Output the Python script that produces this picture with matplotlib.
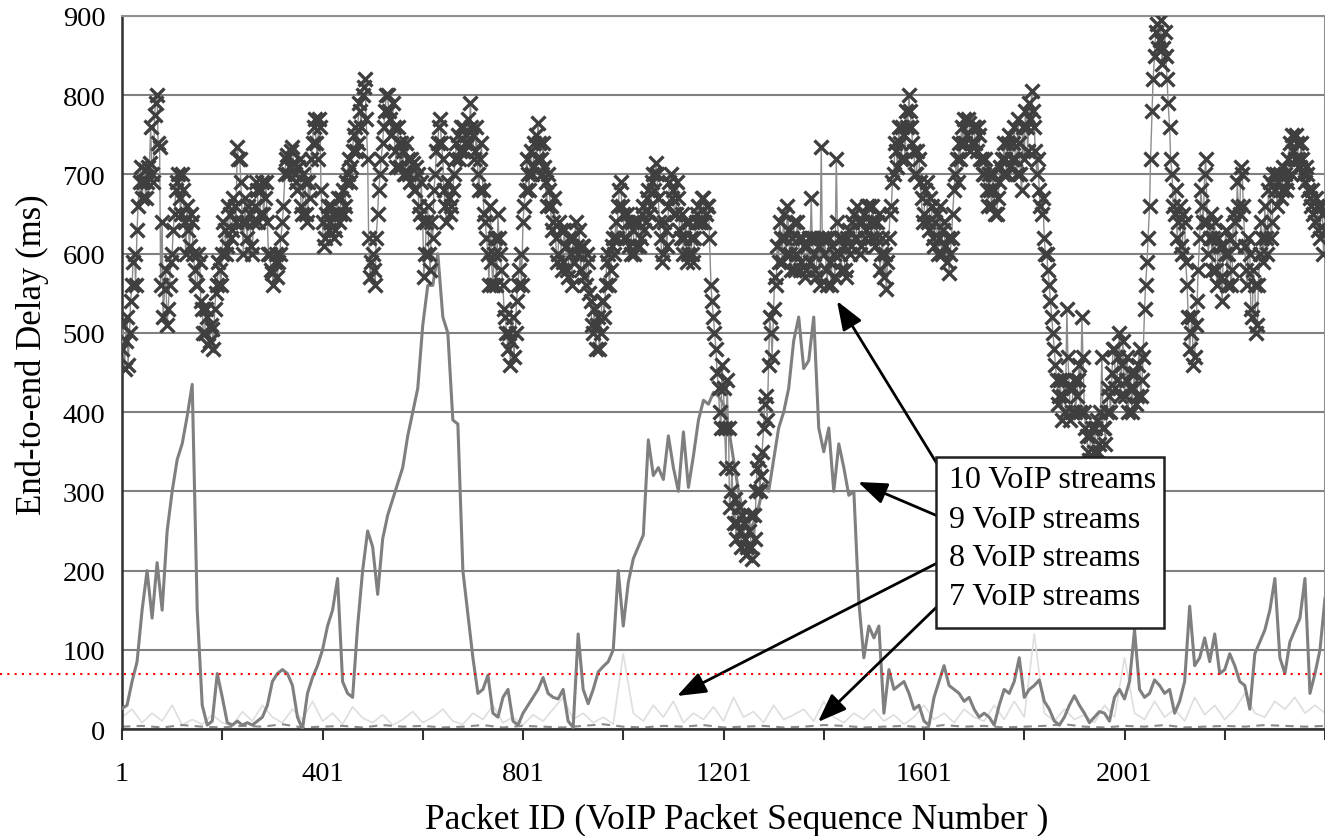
import numpy as np
import matplotlib
matplotlib.use("Agg")
import matplotlib.pyplot as plt
from matplotlib.lines import Line2D

plt.rcParams['font.family'] = ['Liberation Serif', 'DejaVu Serif']

# packet ids
pkt_10a = np.arange(1, 2402, 5)
pkt_10b = np.arange(3, 2402, 5)
pkt_9 = np.arange(1, 2402, 10)
pkt_8 = np.arange(1, 2402, 20)
pkt_7 = np.arange(1, 2402, 40)

# end-to-end delay (ms), 10 VoIP streams, packets 1, 6, 11, ...
delay_10a = [
    480, 455, 520, 500, 560, 600, 630, 690, 670, 705, 690, 715, 700, 775, 800, 735, 640, 555, 510, 560,
    600, 650, 690, 670, 700, 640, 660, 610, 640, 580, 560, 590, 530, 500, 520, 490, 505, 530, 560, 580,
    600, 630, 610, 650, 630, 660, 735, 720, 640, 670, 620, 650, 600, 660, 680, 650, 690, 670, 640, 600,
    575, 590, 570, 600, 640, 700, 725, 710, 735, 700, 680, 720, 650, 690, 640, 670, 740, 770, 720, 760,
    640, 620, 660, 640, 650, 630, 670, 650, 680, 660, 700, 690, 730, 760, 740, 780, 800, 820, 720, 570,
    600, 560, 650, 700, 740, 780, 800, 770, 790, 730, 760, 710, 730, 700, 720, 690, 715, 680, 700, 650,
    640, 600, 660, 580, 620, 700, 740, 770, 720, 660, 690, 650, 680, 720, 750, 730, 760, 740, 770, 790,
    750, 730, 700, 720, 680, 640, 600, 660, 560, 620, 650, 600, 560, 520, 480, 460, 520, 500, 560, 600,
    640, 680, 700, 730, 710, 750, 765, 720, 740, 690, 700, 660, 640, 620, 600, 630, 590, 610, 570, 600,
    620, 640, 600, 580, 610, 560, 590, 540, 500, 480, 520, 500, 540, 560, 600, 580, 620, 640, 660, 690,
    650, 620, 640, 600, 630, 610, 640, 620, 660, 640, 680, 660, 700, 715, 670, 620, 600, 630, 660, 700,
    680, 650, 670, 620, 600, 640, 600, 620, 590, 640, 660, 640, 670, 650, 660, 560, 520, 480, 430, 380,
    430, 330, 380, 300, 260, 240, 280, 230, 260, 220, 250, 230, 270, 300, 340, 320, 380, 420, 460, 500,
    530, 560, 590, 620, 650, 600, 630, 580, 640, 600, 620, 590, 610, 580, 620, 670, 600, 570, 610, 735,
    600, 580, 620, 560, 600, 720, 620, 580, 610, 570, 630, 610, 650, 620, 640, 610, 650, 630, 660, 620,
    640, 620, 650, 600, 570, 555, 620, 660, 700, 730, 760, 720, 750, 780, 800, 760, 730, 700, 720, 670,
    650, 690, 630, 660, 610, 650, 620, 600, 640, 590, 575, 620, 680, 720, 740, 760, 770, 750, 765, 740,
    760, 730, 750, 720, 700, 680, 700, 660, 680, 650, 690, 720, 740, 700, 750, 720, 760, 700, 740, 680,
    720, 760, 790, 805, 760, 700, 680, 650, 620, 600, 560, 520, 480, 440, 420, 390, 440, 530, 430, 400,
    440, 420, 460, 520, 400, 370, 340, 380, 350, 390, 360, 470, 380, 400, 420, 450, 480, 440, 500, 460,
    420, 470, 430, 400, 450, 420, 480, 440, 530, 590, 660, 780, 850, 890, 870, 840, 880, 820, 760, 700,
    650, 620, 660, 600, 640, 560, 480, 520, 470, 540, 620, 660, 700, 640, 620, 580, 640, 560, 610, 540,
    600, 560, 620, 580, 640, 690, 650, 700, 610, 560, 600, 520, 560, 510, 600, 620, 660, 600, 690, 640,
    680, 660, 700, 680, 700, 690, 740, 750, 720, 740, 710, 720, 690, 700, 670, 680, 640, 660, 620, 650,
    630,
]

# 10 VoIP streams, packets 3, 8, 13, ...
delay_10b = [
    510, 490, 460, 540, 590, 560, 660, 710, 690, 670, 710, 760, 690, 790, 740, 560, 520, 580, 530, 590,
    630, 680, 700, 650, 680, 600, 630, 650, 600, 560, 600, 540, 500, 530, 485, 510, 480, 550, 590, 560,
    640, 600, 660, 620, 670, 640, 720, 690, 600, 640, 660, 610, 640, 690, 640, 680, 650, 690, 600, 580,
    560, 600, 590, 620, 660, 720, 700, 730, 715, 690, 710, 660, 700, 650, 690, 720, 760, 740, 770, 680,
    610, 650, 630, 660, 620, 650, 640, 670, 650, 690, 720, 710, 750, 730, 790, 760, 810, 770, 620, 590,
    580, 620, 680, 720, 760, 800, 780, 750, 760, 710, 740, 740, 700, 740, 700, 720, 680, 710, 660, 690,
    570, 640, 600, 640, 680, 730, 760, 740, 680, 640, 670, 660, 700, 740, 720, 760, 730, 750, 740, 760,
    720, 760, 680, 740, 650, 620, 560, 590, 600, 560, 620, 580, 530, 500, 500, 490, 470, 540, 580, 560,
    660, 720, 680, 700, 740, 720, 740, 700, 710, 660, 680, 630, 670, 590, 640, 580, 630, 580, 620, 560,
    590, 610, 630, 610, 570, 600, 550, 510, 530, 510, 480, 540, 520, 590, 560, 610, 600, 620, 680, 660,
    620, 650, 610, 640, 600, 640, 610, 650, 630, 670, 650, 690, 680, 700, 640, 590, 640, 610, 690, 670,
    650, 690, 630, 650, 620, 590, 640, 600, 620, 650, 640, 670, 640, 660, 620, 540, 500, 450, 400, 460,
    380, 440, 280, 330, 290, 260, 250, 270, 240, 230, 270, 215, 240, 330, 300, 350, 410, 390, 520, 470,
    570, 610, 640, 590, 620, 660, 600, 620, 580, 640, 580, 620, 570, 610, 590, 620, 580, 620, 560, 620,
    620, 560, 590, 610, 570, 640, 600, 620, 580, 620, 600, 640, 620, 660, 600, 640, 620, 660, 640, 660,
    610, 640, 580, 620, 600, 590, 650, 690, 740, 710, 740, 760, 720, 760, 780, 740, 700, 730, 690, 640,
    680, 640, 670, 620, 640, 600, 660, 630, 610, 620, 600, 650, 700, 690, 720, 740, 740, 770, 730, 760,
    740, 760, 720, 700, 720, 660, 680, 700, 650, 670, 710, 700, 720, 740, 710, 740, 720, 770, 700, 760,
    780, 730, 770, 780, 730, 720, 660, 670, 600, 580, 540, 500, 460, 410, 440, 420, 400, 470, 390, 430,
    400, 440, 400, 470, 380, 350, 370, 340, 380, 350, 400, 380, 360, 430, 400, 480, 430, 470, 420, 490,
    440, 400, 450, 430, 410, 460, 420, 470, 560, 620, 720, 820, 880, 860, 895, 860, 850, 790, 720, 660,
    680, 640, 610, 650, 590, 520, 500, 460, 510, 580, 680, 640, 720, 600, 650, 620, 580, 620, 570, 610,
    630, 600, 560, 650, 610, 660, 710, 660, 580, 620, 530, 580, 500, 560, 640, 590, 620, 680, 620, 700,
    700, 690, 670, 710, 680, 720, 700, 730, 750, 720, 740, 700, 710, 680, 660, 650, 670, 630, 660, 600,
]

# 9 VoIP streams, one value every 10 packets
delay_9 = [
    26, 30, 60, 85, 150, 200, 140, 210, 150, 250, 300, 340, 360, 395, 435, 150, 30, 5, 10, 70,
    40, 8, 5, 10, 5, 8, 5, 10, 15, 30, 60, 70, 75, 70, 55, 15, 0, 45, 65, 80,
    100, 130, 150, 190, 60, 45, 40, 130, 200, 250, 230, 170, 240, 270, 290, 310, 330, 370, 400, 430,
    510, 560, 560, 600, 520, 500, 390, 385, 200, 145, 90, 45, 50, 68, 20, 15, 40, 50, 10, 5,
    20, 30, 40, 50, 65, 45, 40, 38, 50, 10, 2, 120, 50, 32, 50, 72, 79, 85, 100, 200,
    130, 185, 215, 230, 245, 365, 320, 330, 315, 370, 330, 300, 375, 305, 345, 390, 415, 410, 425, 420,
    410, 380, 340, 300, 270, 250, 260, 280, 310, 300, 340, 380, 400, 430, 490, 520, 455, 465, 520, 380,
    350, 380, 300, 360, 330, 295, 300, 160, 90, 130, 115, 130, 20, 75, 50, 55, 60, 45, 25, 30,
    10, 5, 40, 60, 80, 55, 50, 45, 35, 40, 25, 15, 20, 15, 5, 30, 50, 45, 60, 90,
    40, 50, 55, 62, 35, 25, 10, 5, 15, 30, 42, 30, 20, 8, 15, 22, 20, 10, 40, 50,
    38, 60, 125, 50, 40, 45, 62, 55, 45, 50, 20, 35, 60, 155, 80, 90, 115, 85, 120, 70,
    75, 95, 80, 60, 55, 25, 95, 110, 125, 150, 190, 90, 70, 110, 125, 140, 190, 45, 70, 100,
    165,
]

# 8 VoIP streams, one value every 20 packets
delay_8 = [
    15, 25, 8, 20, 10, 30, 5, 12, 6, 18, 8, 4, 22, 10, 30, 15, 8, 25, 12, 35,
    10, 20, 6, 28, 14, 8, 18, 5, 12, 22, 8, 15, 25, 10, 6, 20, 12, 30, 8, 15,
    5, 18, 10, 25, 40, 12, 20, 8, 15, 6, 95, 20, 10, 30, 15, 35, 8, 20, 12, 28,
    10, 40, 15, 22, 8, 30, 12, 18, 25, 10, 35, 15, 8, 20, 12, 25, 10, 18, 6, 15,
    30, 12, 20, 8, 25, 15, 10, 30, 12, 35, 15, 120, 20, 10, 25, 12, 18, 8, 30, 15,
    90, 20, 12, 35, 15, 25, 10, 40, 18, 30, 12, 25, 45, 20, 15, 35, 25, 40, 20, 30,
    20,
]

# 7 VoIP streams, one value every 40 packets
delay_7 = [
    3, 4, 2, 5, 3, 2, 4, 3, 6, 2, 3, 4, 2, 5, 3, 4, 2, 3, 5, 2,
    4, 3, 2, 4, 6, 3, 2, 4, 3, 5, 2, 3, 4, 2, 3, 5, 4, 2, 3, 4,
    2, 5, 3, 4, 2, 3, 4, 6, 3, 2, 4, 3, 5, 2, 3, 4, 3, 5, 4, 3,
    4,
]

x_ticks = np.arange(1, 2402, 200)
x_labels = [str(t) if (t - 1) % 400 == 0 and t < 2400 else '' for t in x_ticks]

# merge both readings of the 10-stream series in packet order
pkt_10 = np.concatenate([pkt_10a, pkt_10b])
delay_10 = np.concatenate([delay_10a, delay_10b])
order = np.argsort(pkt_10, kind='stable')
pkt_10, delay_10 = pkt_10[order], delay_10[order]

fig = plt.figure(figsize=(13.25, 8.37), dpi=100)
ax = fig.add_axes([0.0921, 0.1278, 0.9079, 0.8519])

ax.plot(pkt_8, delay_8, color='#dedede', lw=1.2, zorder=2)
ax.plot(pkt_7, delay_7, color='#8a8a8a', lw=1.5, ls=(0, (4, 3)), zorder=2)
ax.plot(pkt_9, delay_9, color='#7f7f7f', lw=2.2, zorder=3)
ax.plot(pkt_10, delay_10, color='#8c8c8c', lw=1.0, marker='x', markersize=9.5,
        markeredgewidth=2.4, markeredgecolor='#3f3f3f', zorder=4)

ax.set_xlim(1, 2401)
ax.set_ylim(0, 900)
ax.set_yticks(np.arange(0, 901, 100))
ax.set_xticks(x_ticks)
ax.set_xticklabels(x_labels)
ax.grid(axis='y', color='#808080', lw=1.5, zorder=1)
ax.set_axisbelow(True)

ax.tick_params(axis='x', direction='out', length=8, width=1.5, color='#303030',
               labelsize=20.5, pad=15)
ax.tick_params(axis='y', length=0, labelsize=20.5, pad=12)

for side in ['top', 'right']:
    ax.spines[side].set_color('#909090')
    ax.spines[side].set_linewidth(1.5)
for side in ['left', 'bottom']:
    ax.spines[side].set_color('#303030')
    ax.spines[side].set_linewidth(1.8)

ax.set_xlabel('Packet ID (VoIP Packet Sequence Number )', fontsize=25.5)
ax.set_ylabel('End-to-end Delay (ms)', fontsize=25)
ax.xaxis.set_label_coords(0.511, -0.103)
ax.yaxis.set_label_coords(-0.061, 0.526)

# legend box with arrows pointing at each series
labels = ['10 VoIP streams', '9 VoIP streams', '8 VoIP streams', '7 VoIP streams']
label_y = [481, 521, 559, 598]
targets = [(837, 302), (858, 483), (677, 697), (818, 723)]

def to_fig(px, py):
    return px / 1325, 1 - py / 837

box = plt.Rectangle(to_fig(936, 629), (1164 - 936) / 1325, (629 - 458) / 837,
                    transform=fig.transFigure, facecolor='white', edgecolor='#202020',
                    lw=1.8, zorder=6)
fig.patches.append(box)
for txt, ly, tgt in zip(labels, label_y, targets):
    fig.text(*to_fig(949, ly), txt, fontsize=23, va='center', ha='left', zorder=7)
    ax.annotate('', xy=to_fig(*tgt), xycoords='figure fraction',
                xytext=to_fig(947, ly), textcoords='figure fraction',
                arrowprops=dict(arrowstyle='-|>,head_length=0.8,head_width=0.3',
                                color='black', lw=2, mutation_scale=22,
                                shrinkA=0, shrinkB=0),
                zorder=8, annotation_clip=False)

# red dotted guide across the figure
fig.add_artist(Line2D([0, 1], [1 - 675 / 837] * 2, transform=fig.transFigure,
                      color='red', lw=1.5, ls=(0, (1, 2.5)), zorder=10))

fig.savefig('out.png', dpi=100, facecolor='white')
